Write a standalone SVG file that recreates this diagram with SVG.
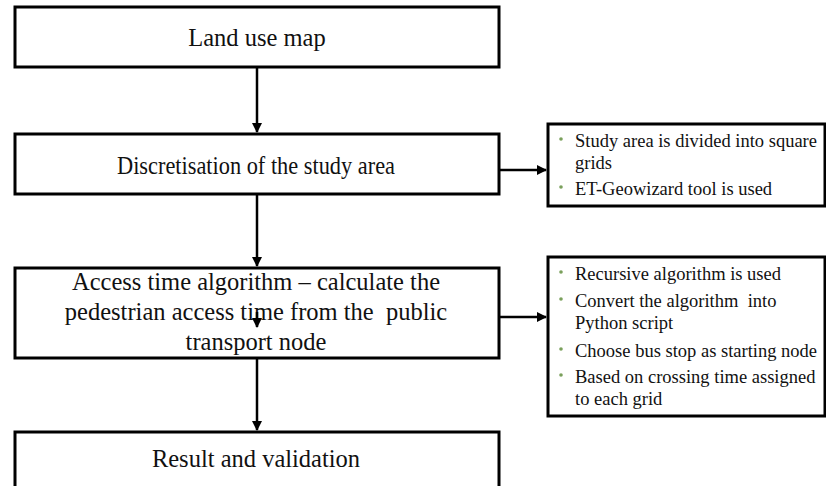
<svg xmlns="http://www.w3.org/2000/svg" width="826" height="486" viewBox="0 0 826 486">
<defs>
<style>
.box{fill:#fff;stroke:#000;stroke-width:3}
.t{font-family:"Liberation Serif","Times New Roman",serif;fill:#111;text-anchor:middle;font-size:24.5px;white-space:pre}
.s{font-family:"Liberation Serif","Times New Roman",serif;fill:#111;font-size:18.5px;white-space:pre}
.dot{fill:#7aa05c}
.c{stroke:#000;stroke-width:2.5;fill:none;marker-end:url(#ah)}
</style>
<marker id="ah" viewBox="0 0 10 10" refX="9" refY="5" markerWidth="4" markerHeight="4" orient="auto" markerUnits="strokeWidth">
<path d="M0,0 L10,5 L0,10 z" fill="#000"/>
</marker>
</defs>
<rect width="826" height="486" fill="#fff"/>
<g id="connectors">
<line class="c" x1="257" y1="68" x2="257" y2="132"/>
<line class="c" x1="257" y1="195" x2="257" y2="266"/>
<line class="c" x1="257" y1="359" x2="257" y2="430"/>
<line class="c" x1="500" y1="170" x2="546" y2="170"/>
<line class="c" x1="500" y1="317" x2="546" y2="317"/>
</g>
<g id="n1">
<rect class="box" x="15" y="7" width="484" height="60"/>
<text class="t" x="257" y="46">Land use map</text>
</g>
<g id="n2">
<rect class="box" x="15" y="134" width="484" height="60"/>
<text class="t" x="256" y="174" textLength="278" lengthAdjust="spacingAndGlyphs">Discretisation of the study area</text>
</g>
<g id="n3">
<rect class="box" x="15" y="268" width="484" height="90"/>
<text class="t" x="256" y="290">Access time algorithm – calculate the</text>
<text class="t" x="256" y="320" xml:space="preserve">pedestrian access time from the  public</text>
<text class="t" x="256" y="350">transport node</text>
<line class="c" x1="257" y1="312" x2="257" y2="327"/>
</g>
<g id="n4">
<rect class="box" x="15" y="432" width="484" height="70"/>
<text class="t" x="256" y="467">Result and validation</text>
</g>
<g id="r1">
<rect class="box" x="548" y="124" width="277" height="82"/>
<circle class="dot" cx="561" cy="139" r="1.8"/>
<text class="s" x="575" y="147">Study area is divided into square</text>
<text class="s" x="575" y="169">grids</text>
<circle class="dot" cx="561" cy="187" r="1.8"/>
<text class="s" x="575" y="195">ET-Geowizard tool is used</text>
</g>
<g id="r2">
<rect class="box" x="548" y="257" width="277" height="159"/>
<circle class="dot" cx="561" cy="272" r="1.8"/>
<text class="s" x="575" y="280">Recursive algorithm is used</text>
<circle class="dot" cx="561" cy="299" r="1.8"/>
<text class="s" x="575" y="307" xml:space="preserve">Convert the algorithm  into</text>
<text class="s" x="575" y="329">Python script</text>
<circle class="dot" cx="561" cy="349" r="1.8"/>
<text class="s" x="575" y="357">Choose bus stop as starting node</text>
<circle class="dot" cx="561" cy="375" r="1.8"/>
<text class="s" x="575" y="383">Based on crossing time assigned</text>
<text class="s" x="575" y="405">to each grid</text>
</g>
</svg>
